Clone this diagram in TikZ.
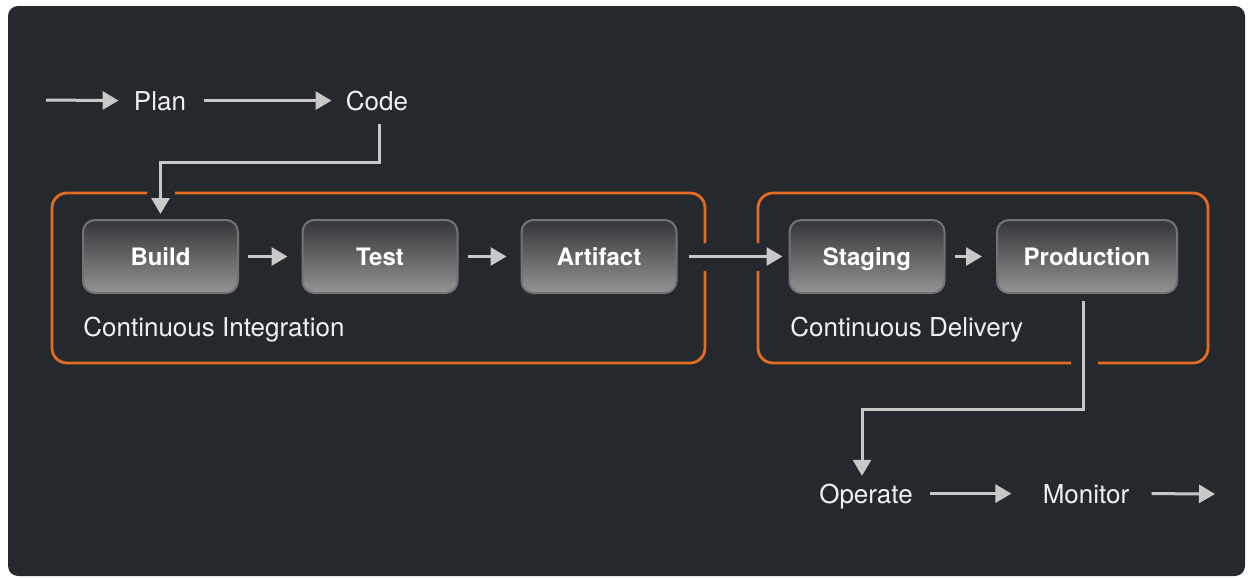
\documentclass[tikz,border=0pt]{standalone}
\usepackage{fontspec}
\setmainfont{TeX Gyre Heros}
\usetikzlibrary{calc,arrows.meta}
\definecolor{panel}{RGB}{37,41,45}
\definecolor{rim}{RGB}{228,108,34}
\definecolor{wire}{RGB}{200,200,200}
\definecolor{boxtop}{RGB}{52,53,56}
\definecolor{boxbot}{RGB}{148,148,148}
\definecolor{boxedge}{RGB}{115,115,118}

\begin{document}
\begin{tikzpicture}[x=0.5pt,y=-0.5pt,
		stage/.style={rounded corners=6pt, draw=boxedge, line width=1pt, top color=boxtop, bottom color=boxbot,
			minimum width=77.5pt, minimum height=36.5pt, text height=8.6pt, text depth=0pt,
			font=\fontsize{12}{14}\selectfont\bfseries, text=white},
		word/.style={inner sep=0pt, anchor=base, text height=9.4pt, text depth=0pt,
			font=\fontsize{13}{15}\selectfont, text=white!94!black},
		flow/.style={draw=wire, line width=1.5pt, -{Triangle[length=8pt,width=9pt]}},
		frame/.style={draw=rim, line width=1.4pt, rounded corners=7.5pt}]
		%%%%% START %%%%%
		
		\useasboundingbox (0,0) rectangle (1250,578);
		\fill[panel, rounded corners=5pt] (8,6) rectangle (1245,576);
		
		% plan and code
		\coordinate (start) at (46,100);
		\node[word] (plan) at (160,110) {Plan};
		\node[word] (code) at (377,110) {Code};
		\draw[flow] (start) -- ($(plan.west)+(-15,0)$);
		\draw[flow] ($(plan.east)+(18,0)$) -- ($(code.west)+(-14,0)$);
		
		% continuous integration
		\draw[frame] (175,193) -- (705,193) -- (705,243);
		\draw[frame] (705,271) -- (705,363) -- (52,363) -- (52,193) -- (147,193);
		\node[stage] (build) at (160.5,256.5) {Build};
		\node[stage] (test) at (380,256.5) {Test};
		\node[stage] (artifact) at (599,256.5) {Artifact};
		\node[word, anchor=base west] (ci) at (83,336) {Continuous Integration};
		
		\draw[flow, shorten >=2.5pt] ($(code.south)+(2,14)$) |- ($(build.north)+(0,-57)$) -- (build.north);
		\draw[flow] ($(build.east)+(9,0)$) -- ($(test.west)+(-14,0)$);
		\draw[flow] ($(test.east)+(9,0)$) -- ($(artifact.west)+(-14,0)$);
		
		% continuous delivery
		\draw[frame] (758,271) -- (758,363) -- (1071,363);
		\draw[frame] (1098,363) -- (1208,363) -- (1208,193) -- (758,193) -- (758,243);
		\node[stage] (staging) at (867,256.5) {Staging};
		\node[stage, minimum width=90pt] (production) at (1087,256.5) {Production};
		\node[word, anchor=base west] (cd) at (790,336) {Continuous Delivery};
		
		\draw[flow] ($(artifact.east)+(11,0)$) -- ($(staging.west)+(-6,0)$);
		\draw[flow] ($(staging.east)+(9,0)$) -- ($(production.west)+(-14,0)$);
		
		% operate and monitor
		\node[word] (operate) at (866,503) {Operate};
		\node[word] (monitor) at (1086,503) {Monitor};
		\coordinate (end) at (1215,494);
		\draw[flow] ($(production.south)+(-4,7)$) |- ($(operate.north)+(-4,-74)$) -- ($(operate.north)+(-4,-8)$);
		\draw[flow] ($(operate.east)+(17,0)$) -- ($(monitor.west)+(-31,0)$);
		\draw[flow] ($(monitor.east)+(22,0)$) -- (end);
		
		%%%%% END %%%%%
\end{tikzpicture}
\end{document}
